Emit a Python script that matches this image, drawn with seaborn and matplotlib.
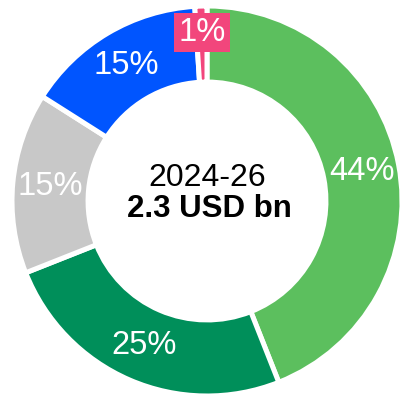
import numpy as np
import matplotlib
matplotlib.use("Agg")
import matplotlib.pyplot as plt
import seaborn as sns

sns.set_theme(style="white")
plt.rcParams["font.family"] = ["Liberation Sans", "DejaVu Sans"]

# slice data, clockwise from 12 o'clock
shares = [44, 25, 15, 15, 1]
labels = ["44%", "25%", "15%", "15%", "1%"]
colors = ["#5cbf5e", "#008f5a", "#c8c8c8", "#0055ff", "#f2467c"]
period = "2024-26"
total = "2.3 USD bn"

fig = plt.figure(figsize=(4.03, 4.01), dpi=100)
ax = fig.add_axes([0, 0, 1, 1])

scale = 195.0  # px per unit radius
cx, cy = 207.0, 201.0

wedges, texts = ax.pie(
    shares, labels=labels, colors=colors, startangle=90, counterclock=False,
    radius=1.0, labeldistance=0.81,
    wedgeprops=dict(width=0.39, edgecolor="white", linewidth=3.6),
    textprops=dict(color="white", fontsize=23.5, ha="center", va="center"),
)
ax.set_xlim(-cx / scale, (403 - cx) / scale)
ax.set_ylim(-(401 - cy) / scale, cy / scale)
ax.set_aspect("equal")

# small slice label pushed out with a box
t = texts[-1]
x, y = t.get_position()
ang = np.arctan2(y, x)
t.set_position((0.865 * np.cos(ang), 0.865 * np.sin(ang)))
t.set_bbox(dict(facecolor=colors[-1], edgecolor="none", pad=3))

ax.text(0.0, 0.12, period, ha="center", va="center", fontsize=23, color="black")
ax.text(0.01, -0.04, total, ha="center", va="center", fontsize=22.5,
        fontweight="bold", color="black")

ax.axis("off")
fig.savefig("out.png", dpi=100, facecolor="white")
